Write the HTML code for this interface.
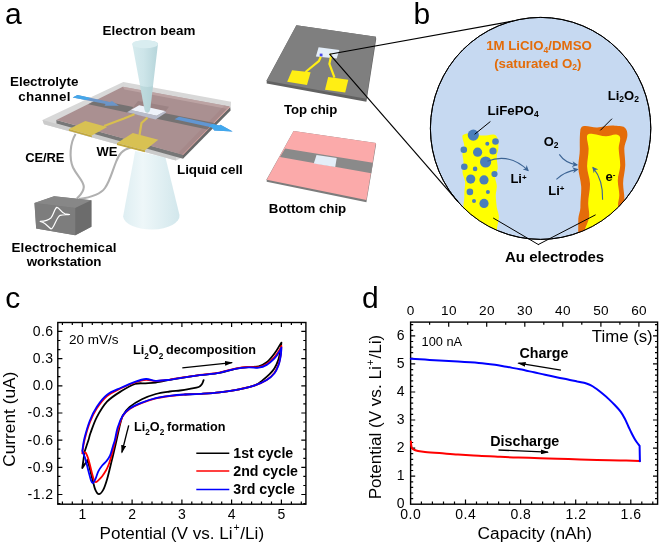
<!DOCTYPE html>
<html><head><meta charset="utf-8">
<style>
html,body{margin:0;padding:0;background:#fff;}
svg{display:block;}
text{font-family:"Liberation Sans",Arial,sans-serif;fill:#000;}
.b{font-weight:bold;}
</style></head><body>
<svg width="660" height="547" viewBox="0 0 660 547">
<defs>
<linearGradient id="coneLo" x1="0" x2="1" y1="0" y2="0">
<stop offset="0" stop-color="#deeef2"/><stop offset="0.35" stop-color="#eef7f9"/><stop offset="1" stop-color="#d2e7ec"/>
</linearGradient>
<linearGradient id="coneUp" x1="0" x2="1" y1="0" y2="0">
<stop offset="0" stop-color="#d6ebee"/><stop offset="0.45" stop-color="#cde5e9"/><stop offset="1" stop-color="#b6d5da"/>
</linearGradient>
<clipPath id="circ"><ellipse cx="540.6" cy="128.4" rx="110.2" ry="111"/></clipPath>
<marker id="ahk" viewBox="0 0 8.4 5" refX="7.2" refY="2.5" markerWidth="8.4" markerHeight="5" orient="auto" markerUnits="userSpaceOnUse"><path d="M0,0L8.4,2.5L0,5z" fill="#000"/></marker>
<marker id="ahb" viewBox="0 0 10 10" refX="8" refY="5" markerWidth="6.5" markerHeight="6" orient="auto" markerUnits="userSpaceOnUse"><path d="M0,0L10,5L0,10L3,5z" fill="#3c6494"/></marker>
</defs>
<rect width="660" height="547" fill="#fff"/>

<!-- ================= PANEL A ================= -->
<g id="panelA">
<!-- lower cone -->
<path d="M135.2,151 L165.4,157.2 L179.5,215 A28.2,13.8 0 0 1 123.1,216.5 Z" fill="url(#coneLo)"/>
<!-- glass slab -->
<polygon points="42.5,120 123.3,82 231,101.8 230.8,106.5 181,158 176,160.6 44,124.3" fill="#d8d8d8"/>
<polygon points="42.5,120 44,124.3 176,160.6 176,156.5" fill="#cbcbcb"/>
<!-- bottom chip dark side -->
<polygon points="56.3,120 183,154.5 183,158.8 56.5,123.6" fill="#777"/>
<polygon points="183,154.5 230.3,107 230.6,110.4 183,158.8" fill="#686868"/>
<!-- pink-brown top face -->
<polygon points="56.3,120 122.8,86.8 229.6,106.6 182.6,154.8" fill="#aa9091"/>
<polygon points="122.8,86.8 229.6,106.6 227.5,109 124.5,89.6" fill="#c2a9a9" fill-opacity="0.75"/>
<line x1="229.6" y1="107" x2="182.6" y2="155" stroke="#d79a96" stroke-width="1"/>
<!-- channel -->
<polygon points="96.7,99.7 214.4,122.9 207.3,129.5 88.3,104.2" fill="#757272"/>
<polygon points="229.6,106.6 182.6,154.8 177.6,153.4 224.4,105.6" fill="#9a7474" fill-opacity="0.22"/>
<!-- cavity behind window -->
<polygon points="138,101 169,106.8 165.5,111.3 139.2,105.2 131,110" fill="#9c8384"/>
<!-- window -->
<polygon points="127,112.2 155.6,119.6 166.2,112.6 165.1,111.1 156.7,115.8 130.7,110" fill="#b9bccb"/>
<polygon points="130.7,110 139.2,105.2 165.1,111.1 156.7,115.8" fill="#eef2fa"/>
<!-- leads -->
<path d="M104,126 L124,118.5 L134.5,114.2" fill="none" stroke="#d8bf4f" stroke-width="2"/>
<path d="M139.5,135 L141.5,123 L147.5,117.6" fill="none" stroke="#d8bf4f" stroke-width="2.2"/>
<!-- wires -->
<path d="M75.6,134 C70,143 69,158 73,167.5 C77,176 84,181 83.8,187 C83.5,193 79,196 77,198.5" fill="none" stroke="#b0b0b0" stroke-width="2.1"/>
<path d="M131,147.5 C122,150 119,154 116,162 C112,172 110,181 105,188 C100,195 90,197.5 79,199" fill="none" stroke="#b0b0b0" stroke-width="2.1"/>
<!-- pads -->
<polygon points="68.9,129 91.8,135.4 91.8,137.2 68.9,130.8" fill="#c2a83c"/>
<polygon points="68.9,129 85.3,121 107.2,126.9 91.8,135.4" fill="#d8c153"/>
<polygon points="117,143 145,150.3 145,152.2 117,144.9" fill="#c2a83c"/>
<polygon points="117,143 132.8,133.1 158.3,139.8 145,150.3" fill="#d8c153"/>
<!-- arrows (blue) -->
<polygon points="72.7,97.5 77.5,95.1 109.8,102 112,100.9 118.9,105.7 104.5,105.7 105.6,104.1" fill="#6b95c8"/>
<polygon points="72.7,97.5 77.5,95.1 91,98 86,100.1" fill="#45a7ea"/>
<polygon points="174.5,119.3 179,116.8 219.3,125.5 220.5,124.7 232.7,131.5 214.2,130.6 212.2,127.6" fill="#6196d2"/>
<polygon points="208.5,126.8 212.5,123.9 219.3,125.5 220.5,124.7 232.7,131.5 214.2,130.6 212.2,127.6" fill="#41a8ee"/>
<!-- upper cone -->
<path d="M132.3,44 A12.8,4 0 0 1 157.9,44.5 L150.2,109.6 Q149.6,112.6 147.3,112.7 Q145,112.6 144.5,109.6 Z" fill="url(#coneUp)"/>
<path d="M140,85.5 Q146.5,88 153,86 L150.2,109.6 Q149.6,112.6 147.3,112.7 Q145,112.6 144.5,109.6 Z" fill="#9fc4c6" fill-opacity="0.35"/>
<ellipse cx="145.1" cy="44.2" rx="12.8" ry="4" fill="#d9edf0"/>
<!-- workstation -->
<polygon points="34.5,202.9 54.1,196.2 91.4,200.2 91.4,226.8 75.3,235.3 36.2,228.6" fill="#7d7d7d"/>
<polygon points="34.5,202.9 54.1,196.2 91.4,200.2 75.3,208" fill="#878787"/>
<polygon points="34.5,202.9 75.3,208 75.3,235.3 36.2,228.6" fill="#7d7d7d"/>
<polygon points="75.3,208 91.4,200.2 91.4,226.8 75.3,235.3" fill="#6c6c6c"/>
<path d="M40.2,221.4 C44,221.3 47.5,221.2 51.1,217.7 C53.5,215 54.5,208.5 56.8,207.4 C59,207 61,212.5 65,213.8 C67,214.3 68.5,214.3 69.6,214.5 C68,214.9 63,214.6 60.2,215.3 C57.5,216.5 55.5,223 53.5,226.2 C52.5,228 51.8,229 51.1,228.9 C50,228.6 46,224 44.4,223.2 C43,222.3 41.5,221.8 40.2,221.4 Z" fill="none" stroke="#fff" stroke-width="1.2" stroke-linejoin="round"/>
<!-- labels -->
<text x="4.9" y="23.8" font-size="30">a</text>
<text class="b" x="102.6" y="35.3" font-size="13.4" textLength="92.8" lengthAdjust="spacing">Electron beam</text>
<text class="b" x="10" y="85.9" font-size="13.4" textLength="68.4" lengthAdjust="spacing">Electrolyte</text>
<text class="b" x="18.3" y="100.9" font-size="13.4" textLength="52.2" lengthAdjust="spacing">channel</text>
<text class="b" x="25.3" y="162.2" font-size="13" textLength="39" lengthAdjust="spacing">CE/RE</text>
<text class="b" x="96.6" y="156.2" font-size="13">WE</text>
<text class="b" x="177" y="173.8" font-size="13.4" textLength="65.8" lengthAdjust="spacing">Liquid cell</text>
<text class="b" x="11.5" y="252.2" font-size="13.4" textLength="105" lengthAdjust="spacing">Electrochemical</text>
<text class="b" x="26.7" y="265.6" font-size="13.4" textLength="74.8" lengthAdjust="spacing">workstation</text>
</g>

<!-- ================= CHIPS ================= -->
<g id="chips">
<polygon points="266.7,80.3 296.4,25.2 375.9,36.8 376.2,39 366.4,101.8 266.7,83.5" fill="#626262"/>

<polygon points="296.4,25.2 375.9,36.8 366.4,98.8 266.7,80.8" fill="#7f7f7f"/>
<polygon points="318.6,47.2 339.4,50 336.7,58.5 315.9,56.4" fill="#e4eef9"/>
<rect x="319.7" y="53.6" width="2.8" height="2.8" fill="#4646e6"/>
<rect x="329.5" y="53.6" width="1.8" height="1.8" fill="#e8d800"/>
<path d="M305.5,72 L318.8,61.2 L320.8,56.8" stroke="#ffee14" stroke-width="2.2" fill="none" stroke-linejoin="round"/>
<path d="M334.5,77.6 L329.4,63.8 L331,56.6" stroke="#ffee14" stroke-width="2.2" fill="none"/>
<polygon points="292.1,70.2 310.6,72.3 307,85 287.2,81.8" fill="#ffee14"/>
<polygon points="328.2,76.9 348.3,79.7 345.2,92.4 325,89.7" fill="#ffee14"/>
<text class="b" x="284" y="113.8" font-size="13.2" textLength="53.2" lengthAdjust="spacing">Top chip</text>
<!-- bottom chip -->
<polygon points="266.7,179.2 293.6,130.9 375.9,143 376.1,144.5 366.4,202.2 266.7,181.8" fill="#7c7c7c"/>

<polygon points="293.6,130.9 375.9,143 366.4,199.9 266.7,179.7" fill="#fbaaaa"/>
<polygon points="285.1,148.5 372.9,162.7 371.2,173.3 280,157" fill="#8a8a8a"/>
<polygon points="316.5,154.9 336.7,158.1 335.2,167 313.8,163.4" fill="#e4eef8"/>
<text class="b" x="268.8" y="212.8" font-size="13.3" textLength="77.4" lengthAdjust="spacing">Bottom chip</text>
</g>

<!-- ================= PANEL B ================= -->
<g id="panelB">
<text x="413.4" y="23.8" font-size="30">b</text>
<ellipse cx="540.6" cy="128.4" rx="110.2" ry="111" fill="#c6d9f1" stroke="#000" stroke-width="1"/>
<line x1="329.6" y1="54.2" x2="513" y2="21" stroke="#000" stroke-width="1.15"/>
<line x1="329.6" y1="54.2" x2="458" y2="201.6" stroke="#000" stroke-width="1.15"/>
<g clip-path="url(#circ)">
<!-- left electrode -->
<path d="M462.5,135.6 C465,133 470,133.5 474,134 C478,135.5 484,135.8 488,135.2 C491,134.6 494,133.8 496,135.5 C498.5,138 498.6,144 498.4,148.4 C498,152 496.5,154 496.8,158 C497,163 498,166 497.6,169 C497,172 495,174 495,177 C495.5,181 497,184 496.8,187 C496.5,191 495.5,194 495.8,197 C496,201 496.5,204 496.8,207.5 C497.5,211 499,214 498.9,217.5 C498.5,222 497,226 496.8,230 L496.8,250 L463,250 L463.5,204.7 C464,201 464.5,198 464.3,194.5 C464.3,190 465.3,185 465.1,181.7 C464.5,178 462.3,175 462.5,171.4 C462.6,168 463.7,164 463.5,161.2 C463.2,158 462.3,156 462.5,153.5 C462.8,150.5 464.5,148.5 464.3,145.8 C464,142 461.8,138.5 462.5,135.6 Z" fill="#ffff00"/>
<!-- right electrode -->
<path d="M580.4,129.5 C581,127 582.5,126 584.2,126 C588,125.5 593,127.8 597.3,127.5 C603,127.2 609,125 614.9,125.7 C619,126 624,125.8 625.2,128.1 C627.5,130.5 627.6,134 627.2,136.9 C626.5,141 624.3,144.5 624.3,148.6 C624.3,154 625.5,160 625.2,166.1 C625,172 623,178 623.1,183.7 C623.2,189 624.5,194 624.3,198.3 L624,250 L578,250 L578.3,218.8 C578.5,214.5 580.5,211 580.4,207.1 C580.3,200 581.5,193 581.2,186.6 C580.8,179.5 578.1,173 578.3,166.1 C578.5,160 579.9,154.5 579.8,148.6 C579.7,142 579.7,135 580.4,129.5 Z" fill="#e46c0a"/>
<path d="M587.1,135.4 C588.5,133.5 590.5,133.8 593,133.9 C597.5,134.1 601.5,136.4 606.1,136.3 C610,136.2 613,134 616.4,134.5 C618.8,134.9 620.2,136 620.2,138.3 C620.3,142 618.6,145 618.7,148.6 C618.8,154.5 620.4,160 620.2,166.1 C620,171 617.7,176 617.8,180.8 C617.9,186 619.4,190.5 619.3,195.4 C619.2,199 618,202 618,205 L618,250 L584,250 L584.6,231 C585,227.5 588.6,222 589.2,216 C589.5,212 588.3,208 588.2,204.2 C588,197.5 590.2,190.5 590,183.7 C589.8,177.5 587,172 587.1,166.1 C587.2,160 588.7,154.5 588.6,148.6 C588.5,144 586.3,139 587.1,135.4 Z" fill="#ffff00"/>
</g>
<ellipse cx="540.6" cy="128.4" rx="110.2" ry="111" fill="none" stroke="#000" stroke-width="1"/>
<!-- dots -->
<g fill="#4a7ebb">
<circle cx="473.3" cy="135.1" r="5.6"/><circle cx="495.5" cy="141.5" r="3.3"/><circle cx="487.3" cy="143.8" r="2"/>
<circle cx="463.8" cy="149.7" r="3.3"/><circle cx="477.6" cy="152.2" r="4.6"/><circle cx="493" cy="151" r="3.6"/>
<circle cx="485.6" cy="162" r="5.6"/><circle cx="464.3" cy="166.8" r="3.3"/><circle cx="475.1" cy="168.9" r="2.3"/>
<circle cx="470.7" cy="179.1" r="4.6"/><circle cx="484" cy="179.9" r="4.6"/><circle cx="494.5" cy="174" r="3.1"/>
<circle cx="469.9" cy="191.9" r="3.3"/><circle cx="487.9" cy="191.9" r="2"/><circle cx="474" cy="200.9" r="2"/>
<circle cx="484" cy="203.4" r="4.6"/>
</g>
<!-- pointer lines -->
<line x1="474.6" y1="134.3" x2="490.4" y2="121.5" stroke="#000" stroke-width="1"/>
<line x1="600.3" y1="130.4" x2="612" y2="118.7" stroke="#000" stroke-width="1"/>
<line x1="538.6" y1="244.7" x2="493.2" y2="218" stroke="#000" stroke-width="1"/>
<line x1="538" y1="244.7" x2="595.6" y2="214.8" stroke="#000" stroke-width="1"/>
<!-- curved arrows -->
<path d="M487.4,161.2 C498,157 512,155 528,170.5" fill="none" stroke="#3c6494" stroke-width="1.1" marker-end="url(#ahb)"/>
<path d="M559.3,154.4 C563,160 568,163.5 576.9,164.9" fill="none" stroke="#3c6494" stroke-width="1.1" marker-end="url(#ahb)"/>
<path d="M556.4,179.3 C562,174 568,171 577.4,169.4" fill="none" stroke="#3c6494" stroke-width="1.1" marker-end="url(#ahb)"/>
<path d="M602.6,199.8 C603,188 600,176 593,167.6" fill="none" stroke="#3c6494" stroke-width="1.1" marker-end="url(#ahb)"/>
<!-- texts -->
<text class="b" x="486.2" y="50.3" font-size="13.25" style="fill:#e36c0a">1M LiClO<tspan font-size="8.5" dy="2.5">4</tspan><tspan dy="-2.5">/DMSO</tspan></text>
<text class="b" x="494.2" y="67.6" font-size="13.25" style="fill:#e36c0a">(saturated O<tspan font-size="8.5" dy="2.5">2</tspan><tspan dy="-2.5">)</tspan></text>
<text class="b" x="487.4" y="114.6" font-size="13.3">LiFePO<tspan font-size="8.5" dy="2.5">4</tspan></text>
<text class="b" x="607.8" y="99.8" font-size="13">Li<tspan font-size="8.5" dy="2.5">2</tspan><tspan dy="-2.5">O</tspan><tspan font-size="8.5" dy="2.5">2</tspan></text>
<text class="b" x="543.7" y="145.7" font-size="13">O<tspan font-size="8.5" dy="2.5">2</tspan></text>
<text class="b" x="510.4" y="183" font-size="13">Li<tspan font-size="8" dy="-3.2">+</tspan></text>
<text class="b" x="548.2" y="194.5" font-size="13">Li<tspan font-size="8" dy="-3.2">+</tspan></text>
<text class="b" x="605.5" y="181.4" font-size="13">e<tspan font-size="8" dy="-4.5">-</tspan></text>
<text class="b" x="505" y="261.6" font-size="15">Au electrodes</text>
</g>
<!--CD-START-->
<g id="panelC">
<text x="5.3" y="307.6" font-size="30">c</text>
<path d="M62.4,504.2v-2.6M62.4,322.5v2.6M72.3,504.2v-2.6M72.3,322.5v2.6M82.3,504.2v-4.6M82.3,322.5v4.6M92.3,504.2v-2.6M92.3,322.5v2.6M102.2,504.2v-2.6M102.2,322.5v2.6M112.2,504.2v-2.6M112.2,322.5v2.6M122.1,504.2v-2.6M122.1,322.5v2.6M132.1,504.2v-4.6M132.1,322.5v4.6M142,504.2v-2.6M142,322.5v2.6M152,504.2v-2.6M152,322.5v2.6M161.9,504.2v-2.6M161.9,322.5v2.6M171.9,504.2v-2.6M171.9,322.5v2.6M181.9,504.2v-4.6M181.9,322.5v4.6M191.8,504.2v-2.6M191.8,322.5v2.6M201.8,504.2v-2.6M201.8,322.5v2.6M211.7,504.2v-2.6M211.7,322.5v2.6M221.7,504.2v-2.6M221.7,322.5v2.6M231.6,504.2v-4.6M231.6,322.5v4.6M241.6,504.2v-2.6M241.6,322.5v2.6M251.6,504.2v-2.6M251.6,322.5v2.6M261.5,504.2v-2.6M261.5,322.5v2.6M271.5,504.2v-2.6M271.5,322.5v2.6M281.4,504.2v-4.6M281.4,322.5v4.6M291.4,504.2v-2.6M291.4,322.5v2.6M301.3,504.2v-2.6M301.3,322.5v2.6M57.8,503.6h2.6M305.9,503.6h-2.6M57.8,494.5h4.6M305.9,494.5h-4.6M57.8,485.5h2.6M305.9,485.5h-2.6M57.8,476.4h2.6M305.9,476.4h-2.6M57.8,467.3h4.6M305.9,467.3h-4.6M57.8,458.3h2.6M305.9,458.3h-2.6M57.8,449.2h2.6M305.9,449.2h-2.6M57.8,440.2h4.6M305.9,440.2h-4.6M57.8,431.1h2.6M305.9,431.1h-2.6M57.8,422h2.6M305.9,422h-2.6M57.8,413h4.6M305.9,413h-4.6M57.8,403.9h2.6M305.9,403.9h-2.6M57.8,394.9h2.6M305.9,394.9h-2.6M57.8,385.8h4.6M305.9,385.8h-4.6M57.8,376.7h2.6M305.9,376.7h-2.6M57.8,367.7h2.6M305.9,367.7h-2.6M57.8,358.6h4.6M305.9,358.6h-4.6M57.8,349.6h2.6M305.9,349.6h-2.6M57.8,340.5h2.6M305.9,340.5h-2.6M57.8,331.4h4.6M305.9,331.4h-4.6" stroke="#000" stroke-width="1.2" fill="none"/>
<rect x="57.8" y="322.5" width="248.1" height="181.7" fill="none" stroke="#000" stroke-width="1.4"/>
<text x="53.6" y="335.8" font-size="14" text-anchor="end" letter-spacing="0.5">0.6</text>
<text x="53.6" y="363" font-size="14" text-anchor="end" letter-spacing="0.5">0.3</text>
<text x="53.6" y="390.2" font-size="14" text-anchor="end" letter-spacing="0.5">0.0</text>
<text x="53.6" y="417.4" font-size="14" text-anchor="end" letter-spacing="0.5">-0.3</text>
<text x="53.6" y="444.6" font-size="14" text-anchor="end" letter-spacing="0.5">-0.6</text>
<text x="53.6" y="471.7" font-size="14" text-anchor="end" letter-spacing="0.5">-0.9</text>
<text x="53.6" y="498.9" font-size="14" text-anchor="end" letter-spacing="0.5">-1.2</text>
<text x="82.3" y="519.4" font-size="14" text-anchor="middle">1</text>
<text x="132.1" y="519.4" font-size="14" text-anchor="middle">2</text>
<text x="181.9" y="519.4" font-size="14" text-anchor="middle">3</text>
<text x="231.6" y="519.4" font-size="14" text-anchor="middle">4</text>
<text x="281.4" y="519.4" font-size="14" text-anchor="middle">5</text>
<text transform="translate(15.4,466.8) rotate(-90)" font-size="17.3">Current (uA)</text>
<text x="99.6" y="538.7" font-size="17.1">Potential (V vs. Li<tspan font-size="10.5" dy="-7.5" dx="0.8">+</tspan><tspan dy="7.5" dx="0.8">/Li)</tspan></text>
<text x="69" y="343.6" font-size="13.5" >20 mV/s</text>
<g fill="none" stroke-width="1.8" stroke-linejoin="round" stroke-linecap="round">
<path stroke="#000" d="M203.6,380.1C203.3,380.8 202.8,382.9 202,384C201.2,385.1 200.7,386.2 198.7,387C196.7,387.8 192.9,388.3 189.8,388.9C186.7,389.5 183.3,390.1 180,390.5C176.7,390.9 173.7,390.9 169.7,391.5C165.7,392.1 160.4,392.7 155.8,394C151.2,395.3 146.2,397.1 141.9,399.2C137.6,401.3 132.9,404.2 129.7,406.9C126.5,409.6 124.5,412.1 122.8,415.6C121.1,419.1 120.4,423.1 119.3,427.7C118.2,432.3 117.1,437.7 115.9,443C114.7,448.3 113.5,453.6 112,459.6C110.5,465.6 108.6,474.1 107.1,479.2C105.6,484.2 104.6,487.4 103.2,489.9C101.8,492.4 100.2,494.2 98.9,494.2C97.6,494.2 96.5,492.4 95.4,489.9C94.3,487.4 93.4,482.9 92.4,479.2C91.4,475.4 90.3,470.6 89.5,467.4C88.7,464.2 87.9,461.2 87.6,460 M87.6,460L82.3,468L84.6,451.7 M84.6,451.7C85.2,449.8 87.5,443.1 88.5,440C89.5,436.9 89.1,436.8 90.5,433C91.9,429.2 94,422.5 96.7,417.3C99.5,412.1 103,406 107,401.7C111,397.4 116.3,394.2 121,391.3C125.7,388.4 130.9,385.3 135,384C139.1,382.7 141.9,383.5 145.4,383.3C148.9,383.1 151.8,383.2 155.8,382.6C159.9,382 165.7,380.6 169.7,379.8C173.7,379.1 175,378.9 180,378.1C185,377.3 193.1,376.1 199.7,375.2C206.3,374.3 213.5,373.9 219.4,372.8C225.3,371.7 230.3,369.8 235.2,368.8C240.1,367.8 245,367.4 248.9,367C252.8,366.6 255.8,367.1 258.8,366.3C261.8,365.5 264.1,364.4 266.7,362.3C269.3,360.2 272.4,356.3 274.5,353.5C276.6,350.7 278.4,347.4 279.5,345.6C280.6,343.8 281.1,343.2 281.4,342.7 M281.4,342.7C281.2,343.9 281,347.2 280.5,350C280,352.8 279.5,356.3 278.5,359.4C277.5,362.4 276,365.8 274.5,368.3C273,370.8 271.6,372.2 269.6,374.2C267.6,376.2 265.2,378.2 262.7,380.1C260.2,382 258.7,383.9 254.8,385.4C250.9,386.9 245,388.1 239.1,389.3C233.2,390.5 226,391.5 219.4,392.3C212.8,393.1 205.4,393.5 199.7,393.9C194,394.3 187.4,394.4 185,394.5"/>
<path stroke="#f00" d="M82.3,453.3C82.7,451.1 83.2,445.1 84.5,440C85.8,434.9 87.8,427.8 89.8,422.5C91.8,417.2 93.8,412.9 96.7,408.5C99.6,404.1 103,399.4 107.1,396C111.1,392.6 116.4,390.6 121,388.3C125.6,386.1 130.7,383.9 134.9,382.5C139.1,381.1 142.5,380.1 146,379.8C149.5,379.6 151.9,381 155.8,381C159.8,381 165.7,380.1 169.7,379.6C173.7,379.1 175,378.6 180,377.8C185,377 193.1,375.9 199.7,375C206.3,374.1 213.5,373.7 219.4,372.6C225.3,371.5 230.3,369.5 235.2,368.6C240.1,367.7 245,367.2 248.9,367C252.8,366.8 255.8,367.7 258.8,367.2C261.8,366.7 264.1,365.7 266.7,364C269.3,362.3 272.4,359.3 274.5,357C276.6,354.7 278.4,351.8 279.5,350C280.6,348.2 281.1,346.7 281.4,346 M281.4,346C281.3,347.4 281.3,351.4 280.8,354.5C280.3,357.6 279.6,361.5 278.5,364.5C277.4,367.5 276.5,370.1 274.5,372.7C272.5,375.3 270,377.9 266.7,380C263.4,382.1 259.4,383.8 254.8,385.4C250.2,386.9 245,388.1 239.1,389.3C233.2,390.5 226,391.5 219.4,392.3C212.8,393.1 205.4,393.5 199.7,393.9C194,394.3 190,394.1 185,394.5C180,394.9 174.6,395.4 169.7,396C164.8,396.6 160.4,397.2 155.8,398.4C151.2,399.6 146.2,401.2 141.9,403C137.6,404.8 132.9,406.8 129.7,409C126.5,411.2 124.7,412.8 122.8,416C120.9,419.2 119.8,423.7 118.5,428C117.2,432.3 116,437.7 114.9,442C113.8,446.3 113,450.1 112,453.7C111,457.3 110.1,460.7 109.1,463.5C108.1,466.3 107.2,468.2 106.1,470.3C104.9,472.4 103.5,474.5 102.2,476.2C100.9,477.9 99.4,479.3 98.3,480.3C97.2,481.3 96.5,482.1 95.8,482.1C95.1,482.1 94.7,481.9 94,480.1C93.3,478.3 92.4,474.7 91.5,471.3C90.6,467.9 89.5,462.7 88.5,459.6C87.5,456.5 86.6,453.8 85.6,452.7C84.6,451.6 82.8,453.2 82.3,453.3"/>
<path stroke="#00f" d="M82.3,450.8C82.7,448.7 83.2,443 84.5,438C85.8,433 87.8,426 89.8,420.8C91.8,415.6 93.8,411.2 96.7,406.9C99.6,402.5 103,397.9 107.1,394.7C111.1,391.5 116.4,389.9 121,387.8C125.6,385.7 130.7,383.4 134.9,381.9C139.1,380.4 142.5,379.2 146,379C149.5,378.8 151.9,380.7 155.8,380.8C159.8,380.9 165.7,380.2 169.7,379.8C173.7,379.4 175,378.9 180,378.1C185,377.3 193.1,376.1 199.7,375.2C206.3,374.3 213.5,373.9 219.4,372.8C225.3,371.7 230.3,369.7 235.2,368.8C240.1,367.9 245,367.5 248.9,367.3C252.8,367.1 255.8,368.1 258.8,367.7C261.8,367.3 264.1,366.4 266.7,364.9C269.3,363.3 272.4,360.6 274.5,358.4C276.6,356.2 278.4,353.3 279.5,351.5C280.6,349.7 281.1,348.2 281.4,347.6 M281.4,347.6C281.3,348.9 281.3,352.6 280.8,355.5C280.3,358.4 279.6,362.4 278.5,365.3C277.4,368.2 276.5,370.7 274.5,373.2C272.5,375.7 270,378.1 266.7,380.1C263.4,382.1 259.4,383.9 254.8,385.4C250.2,386.9 245,388.1 239.1,389.3C233.2,390.5 226,391.5 219.4,392.3C212.8,393.1 205.4,393.5 199.7,393.9C194,394.3 190,394.2 185,394.5C180,394.8 174.6,395.2 169.7,395.8C164.8,396.4 160.4,397.1 155.8,398.2C151.2,399.3 146.2,401 141.9,402.7C137.6,404.4 132.9,406.5 129.7,408.6C126.5,410.8 124.8,412.4 122.8,415.6C120.8,418.8 118.9,423.6 117.6,427.7C116.3,431.8 115.7,437 114.9,440C114.1,443 113.8,443.3 113,445.9C112.2,448.5 111.2,453.1 110,455.7C108.8,458.3 107.4,459.9 106.1,461.5C104.8,463.1 103.5,463.9 102.2,465.5C100.9,467.1 99.4,469 98.3,471.3C97.2,473.6 96.3,477.2 95.4,479.2C94.5,481.2 93.5,483 92.8,483.1C92,483.2 91.6,482.1 90.9,480.1C90.2,478.1 89.4,474.7 88.5,471.3C87.6,467.9 86.6,463 85.6,459.6C84.6,456.2 82.8,452.3 82.3,450.8"/>
</g>
<text class="b" x="133" y="354.1" font-size="12.65">Li<tspan font-size="8.2" dy="4.5">2</tspan><tspan dy="-4.5">O</tspan><tspan font-size="8.2" dy="4.5">2</tspan><tspan dy="-4.5" dx="-0.6"> decomposition</tspan></text>
<text class="b" x="134" y="430.6" font-size="12.65">Li<tspan font-size="8.2" dy="4.5">2</tspan><tspan dy="-4.5">O</tspan><tspan font-size="8.2" dy="4.5">2</tspan><tspan dy="-4.5" dx="-0.6"> formation</tspan></text>
<line x1="182.3" y1="367.9" x2="232.1" y2="362.6" stroke="#000" stroke-width="1.35" marker-end="url(#ahk)"/>
<line x1="128.7" y1="425.3" x2="121.9" y2="452.4" stroke="#000" stroke-width="1.35" marker-end="url(#ahk)"/>
<line x1="196.3" y1="453.2" x2="229.3" y2="453.2" stroke="#000" stroke-width="1.5"/>
<text class="b" x="233.3" y="457.8" font-size="14.2">1st cycle</text>
<line x1="196.3" y1="471" x2="229.3" y2="471" stroke="#f00" stroke-width="1.5"/>
<text class="b" x="233.3" y="475.6" font-size="14.2">2nd cycle</text>
<line x1="196.3" y1="489.5" x2="229.3" y2="489.5" stroke="#00f" stroke-width="1.5"/>
<text class="b" x="233.3" y="494.1" font-size="14.2">3rd cycle</text>
</g>
<g id="panelD">
<text x="362" y="307.7" font-size="30">d</text>
<path d="M421.4,504.2v-2.6M432.4,504.2v-2.6M443.5,504.2v-2.6M454.5,504.2v-2.6M465.5,504.2v-4.6M476.5,504.2v-2.6M487.5,504.2v-2.6M498.6,504.2v-2.6M509.6,504.2v-2.6M520.6,504.2v-4.6M531.6,504.2v-2.6M542.6,504.2v-2.6M553.7,504.2v-2.6M564.7,504.2v-2.6M575.7,504.2v-4.6M586.7,504.2v-2.6M597.7,504.2v-2.6M608.8,504.2v-2.6M619.8,504.2v-2.6M630.8,504.2v-4.6M641.8,504.2v-2.6M652.8,504.2v-2.6M429.6,322.1v2.6M448.7,322.1v4.6M467.7,322.1v2.6M486.7,322.1v4.6M505.7,322.1v2.6M524.8,322.1v4.6M543.8,322.1v2.6M562.8,322.1v4.6M581.8,322.1v2.6M600.9,322.1v4.6M619.9,322.1v2.6M638.9,322.1v4.6M410.6,498.6h2.6M657.6,498.6h-2.6M410.6,493h2.6M657.6,493h-2.6M410.6,487.4h2.6M657.6,487.4h-2.6M410.6,481.8h2.6M657.6,481.8h-2.6M410.6,476.1h4.6M657.6,476.1h-4.6M410.6,470.5h2.6M657.6,470.5h-2.6M410.6,464.9h2.6M657.6,464.9h-2.6M410.6,459.3h2.6M657.6,459.3h-2.6M410.6,453.7h2.6M657.6,453.7h-2.6M410.6,448.1h4.6M657.6,448.1h-4.6M410.6,442.5h2.6M657.6,442.5h-2.6M410.6,436.9h2.6M657.6,436.9h-2.6M410.6,431.3h2.6M657.6,431.3h-2.6M410.6,425.7h2.6M657.6,425.7h-2.6M410.6,420h4.6M657.6,420h-4.6M410.6,414.4h2.6M657.6,414.4h-2.6M410.6,408.8h2.6M657.6,408.8h-2.6M410.6,403.2h2.6M657.6,403.2h-2.6M410.6,397.6h2.6M657.6,397.6h-2.6M410.6,392h4.6M657.6,392h-4.6M410.6,386.4h2.6M657.6,386.4h-2.6M410.6,380.8h2.6M657.6,380.8h-2.6M410.6,375.2h2.6M657.6,375.2h-2.6M410.6,369.6h2.6M657.6,369.6h-2.6M410.6,363.9h4.6M657.6,363.9h-4.6M410.6,358.3h2.6M657.6,358.3h-2.6M410.6,352.7h2.6M657.6,352.7h-2.6M410.6,347.1h2.6M657.6,347.1h-2.6M410.6,341.5h2.6M657.6,341.5h-2.6M410.6,335.9h4.6M657.6,335.9h-4.6M410.6,330.3h2.6M657.6,330.3h-2.6M410.6,324.7h2.6M657.6,324.7h-2.6" stroke="#000" stroke-width="1.2" fill="none"/>
<rect x="410.6" y="322.1" width="247" height="182.1" fill="none" stroke="#000" stroke-width="1.4"/>
<text x="404.6" y="507.7" font-size="14" text-anchor="end">0</text>
<text x="404.6" y="480.4" font-size="14" text-anchor="end">1</text>
<text x="404.6" y="452.4" font-size="14" text-anchor="end">2</text>
<text x="404.6" y="424.3" font-size="14" text-anchor="end">3</text>
<text x="404.6" y="396.3" font-size="14" text-anchor="end">4</text>
<text x="404.6" y="368.2" font-size="14" text-anchor="end">5</text>
<text x="404.6" y="340.2" font-size="14" text-anchor="end">6</text>
<text x="410.7" y="518.9" font-size="14" text-anchor="middle" letter-spacing="0.5">0.0</text>
<text x="465.8" y="518.9" font-size="14" text-anchor="middle" letter-spacing="0.5">0.4</text>
<text x="520.9" y="518.9" font-size="14" text-anchor="middle" letter-spacing="0.5">0.8</text>
<text x="576" y="518.9" font-size="14" text-anchor="middle" letter-spacing="0.5">1.2</text>
<text x="631.1" y="518.9" font-size="14" text-anchor="middle" letter-spacing="0.5">1.6</text>
<text x="410.8" y="314.6" font-size="13.6" text-anchor="middle" letter-spacing="0.4">0</text>
<text x="448.9" y="314.6" font-size="13.6" text-anchor="middle" letter-spacing="0.4">10</text>
<text x="486.9" y="314.6" font-size="13.6" text-anchor="middle" letter-spacing="0.4">20</text>
<text x="525" y="314.6" font-size="13.6" text-anchor="middle" letter-spacing="0.4">30</text>
<text x="563" y="314.6" font-size="13.6" text-anchor="middle" letter-spacing="0.4">40</text>
<text x="601.1" y="314.6" font-size="13.6" text-anchor="middle" letter-spacing="0.4">50</text>
<text x="639.1" y="314.6" font-size="13.6" text-anchor="middle" letter-spacing="0.4">60</text>
<text transform="translate(381.2,499.3) rotate(-90)" font-size="17.1">Potential (V vs. Li<tspan font-size="10.5" dy="-7.5" dx="0.8">+</tspan><tspan dy="7.5" dx="0.8">/Li)</tspan></text>
<text x="477.6" y="538.6" font-size="17.3">Capacity (nAh)</text>
<text x="591.8" y="341.5" font-size="16.8">Time (s)</text>
<text x="421.6" y="345.6" font-size="12.8">100 nA</text>
<g fill="none" stroke-width="2" stroke-linejoin="round" stroke-linecap="round">
<path stroke="#f00" transform="translate(0,-0.4)" d="M410.9,441.8C411,442.5 411.1,444.8 411.3,446C411.5,447.2 411.7,448.3 412.3,449C412.9,449.7 413.8,450 414.7,450.4C415.6,450.8 416.3,451 418,451.3C419.7,451.6 421.4,451.9 425,452.3C428.6,452.7 433.9,453.1 439.4,453.5C444.9,453.9 451.4,454.6 458,455C464.6,455.4 471.8,455.8 478.8,456.2C485.8,456.6 493.4,456.9 500,457.2C506.6,457.5 511.5,457.7 518.2,457.9C524.9,458.1 533.4,458.4 540,458.6C546.6,458.8 550.9,458.9 557.6,459.1C564.3,459.3 573.4,459.6 580,459.8C586.6,460 590.3,460.1 597,460.3C603.7,460.5 612.9,460.6 620,460.8C627.1,461 636.5,461.2 639.8,461.3"/>
<path stroke="#00f" d="M410.8,358.8C413.2,358.9 420.2,359.3 425,359.6C429.8,359.9 433.9,360.2 439.4,360.5C444.9,360.8 451.4,361.2 458,361.6C464.6,362 472.6,362.5 478.8,363C485,363.5 490.4,364.2 495,364.8C499.6,365.4 502.2,366.1 506.4,366.8C510.6,367.6 515.4,368.4 520,369.3C524.6,370.2 529.8,371.4 534,372.3C538.2,373.2 541.1,373.9 545,374.7C548.9,375.5 553.8,376.6 557.6,377.4C561.4,378.2 564.7,378.8 568,379.5C571.3,380.2 574.6,380.8 577.3,381.4C580,381.9 582,382.3 584,382.8C586,383.3 587.6,383.9 589.1,384.5C590.6,385.1 591.7,385.7 593,386.5C594.3,387.3 595.3,388.1 597,389.3C598.7,390.6 601,392.4 603,394C605,395.6 606.8,397.2 608.8,399.1C610.8,401 613,403.2 615,405.3C617,407.4 618.9,409.4 620.6,411.7C622.3,414 623.7,416.5 625,419C626.3,421.5 627.4,424.4 628.5,426.7C629.6,429 630.5,431 631.5,433C632.5,435 633.5,436.9 634.4,438.5C635.3,440.1 636.1,441.3 637,442.5C637.9,443.7 639.2,445.2 639.6,445.8 L639.9,461.3"/>
</g>
<text class="b" x="519.4" y="357.8" font-size="14.25">Charge</text>
<text class="b" x="490.2" y="445.8" font-size="14.3">Discharge</text>
<line x1="560.9" y1="370.1" x2="518.4" y2="363.2" stroke="#000" stroke-width="1.35" marker-end="url(#ahk)"/>
<line x1="498.5" y1="450" x2="548" y2="452.2" stroke="#000" stroke-width="1.35" marker-end="url(#ahk)"/>
</g>
<!--CD-END-->
</svg>
</body></html>
